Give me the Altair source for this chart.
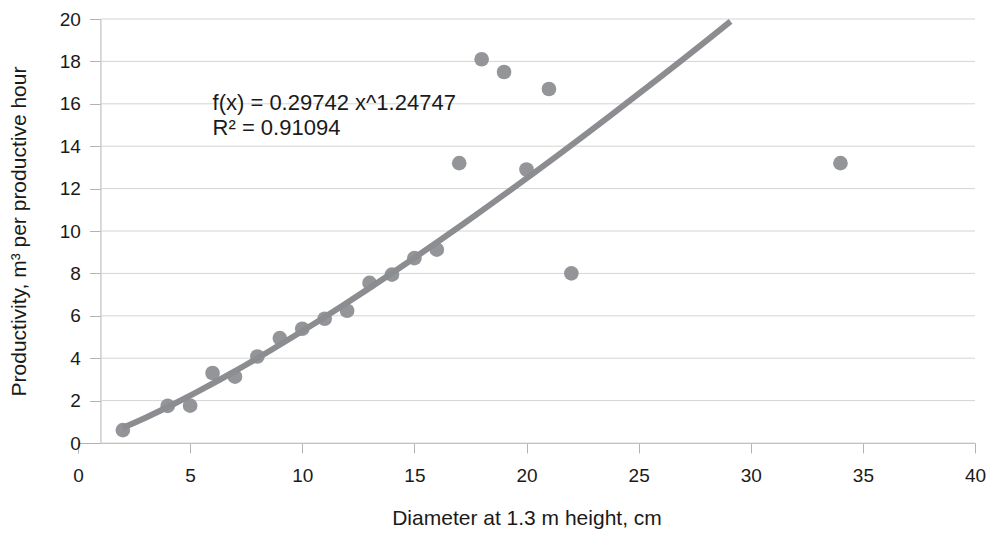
import altair as alt
import pandas as pd

# Data
diameter = [2, 4, 5, 6, 7, 8, 9, 10, 11, 12, 13, 14, 15, 16, 17, 18, 19, 20, 21, 22, 34]
productivity = [0.61, 1.75, 1.76, 3.3, 3.13, 4.08, 4.95, 5.39, 5.86, 6.24, 7.55, 7.94,
                8.72, 9.12, 13.2, 18.1, 17.5, 12.9, 16.7, 8.0, 13.2]
x_ticks = [0, 5, 10, 15, 20, 25, 30, 35, 40]
y_ticks = [0, 2, 4, 6, 8, 10, 12, 14, 16, 18, 20]
trend_extent = [2, 29.1]
annotation = ["f(x) = 0.29742 x^1.24747", "R\u00b2 = 0.91094"]

df = pd.DataFrame({"d": diameter, "p": productivity})
grid_df = pd.DataFrame({"v": y_ticks})

FONT = "Liberation Sans"
TEXT = "#1a1a1a"
AXIS = "#b3b3b3"
GRID = "#d4d4d4"
MARK = "#939598"
LINE = "#8c8d91"

xscale = alt.Scale(domain=[0, 40], nice=False, zero=False)
yscale = alt.Scale(domain=[0, 20], nice=False)

grid = alt.Chart(grid_df).mark_rule(color=GRID, strokeWidth=1).encode(
    x=alt.datum(1, scale=xscale),
    x2=alt.datum(40),
    y=alt.Y("v:Q", scale=yscale),
)

points = alt.Chart(df).mark_circle(size=215, color=MARK, opacity=1).encode(
    x=alt.X("d:Q", scale=xscale,
            axis=alt.Axis(values=x_ticks, title="Diameter at 1.3 m height, cm",
                          grid=False, domainColor=AXIS, tickColor=AXIS, labelFlush=False,
                          tickSize=10, labelPadding=13, titlePadding=22)),
    y=alt.Y("p:Q", scale=yscale,
            axis=alt.Axis(values=y_ticks, title="Productivity, m\u00b3 per productive hour",
                          grid=False, domainColor=AXIS, tickColor=AXIS, labelFlush=False,
                          tickSize=11, labelPadding=9, titlePadding=30, offset=-22.425)),
)

trend = alt.Chart(df).transform_regression(
    "d", "p", method="pow", extent=trend_extent
).mark_line(color=LINE, strokeWidth=6, strokeCap="butt").encode(
    x=alt.X("d:Q", scale=xscale),
    y=alt.Y("p:Q", scale=yscale),
)

label = alt.Chart(pd.DataFrame({"t": [0]})).mark_text(
    text=annotation, align="left", baseline="alphabetic", fontSize=22,
    lineHeight=25, font=FONT, color=TEXT,
).encode(
    x=alt.datum(6.0, scale=xscale),
    y=alt.datum(15.7, scale=yscale),
)

chart = alt.layer(grid, points, trend, label).properties(
    width=897, height=424,
    padding={"left": 70, "top": 11, "right": 14, "bottom": 90},
    autosize=alt.AutoSizeParams(type="none"),
    background="white",
).configure_view(stroke=None).configure_axis(
    labelFont=FONT, titleFont=FONT, labelFontSize=19, titleFontSize=21,
    labelColor=TEXT, titleColor=TEXT, titleFontWeight="normal",
)

chart.save("out.html", embed_options={"renderer": "svg", "actions": False})
